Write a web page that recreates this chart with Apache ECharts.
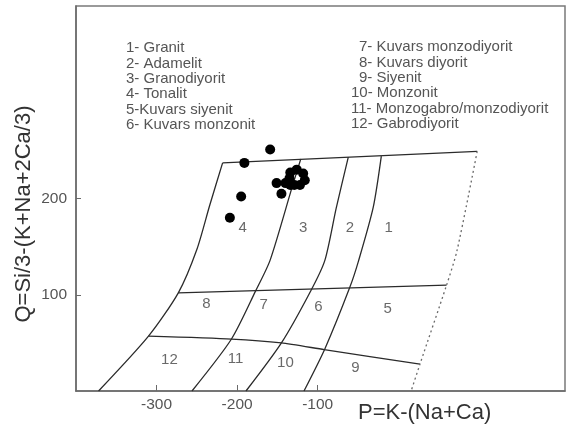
<!DOCTYPE html>
<html>
<head>
<meta charset="utf-8">
<script src="https://cdn.jsdelivr.net/npm/echarts@6/dist/echarts.min.js"></script>
<style>
  html, body { margin: 0; padding: 0; background: #fff; }
  #chart { width: 569px; height: 427px; }
</style>
</head>
<body>
<div id="chart"></div>
<script>
// Debon & Le Fort P-Q classification diagram

// Axis tick labels
const xTickValues = [-300, -200, -100];
const yTickValues = [100, 200];

// Rock names of the fields
const legendLeft = ['1- Granit', '2- Adamelit', '3- Granodiyorit', '4- Tonalit', '5-Kuvars siyenit', '6- Kuvars monzonit'];
const legendRight = ['7- Kuvars monzodiyorit', '8- Kuvars diyorit', '9- Siyenit', '10- Monzonit', '11- Monzogabro/monzodiyorit', '12- Gabrodiyorit'];

// Field numbers and their P, Q locations
const fieldNumbers = ['1', '2', '3', '4', '5', '6', '7', '8', '9', '10', '11', '12'];
const fieldP = [-12, -60, -118, -193, -13, -99, -167, -238, -53, -140, -202, -284];
const fieldQ = [169, 169, 169, 169, 85, 87, 89, 91, 24, 29, 33, 32];

// Field boundaries as [P, Q] vertices
const topEdge = [[-218, 237], [98, 249]];
const leftEdge = [[-218, 237], [-234, 193], [-250, 147], [-273, 102], [-310, 57], [-372, 0]];
const boundary4to3 = [[-121, 241], [-132, 211], [-159, 136], [-177, 104], [-207, 54], [-256, 0]];
const boundary3to2 = [[-62, 243], [-77, 190], [-91, 136], [-108, 105], [-145, 50], [-189, 0]];
const boundary2to1 = [[-21, 244], [-31, 191], [-49, 136], [-60, 108], [-91, 44], [-117, 0]];
const middleLine = [[-273, 102], [60, 110]];
const lowerLine = [[-310, 57], [-207, 54], [-145, 50], [-92, 43], [27, 28]];
const dashedEdge = [[98, 249], [73, 146], [60, 110], [27, 28], [16, 0]];

// Samples
const sampleP = [-159, -191, -195, -209, -145, -151, -140, -134, -126, -118, -116, -122, -129, -134, -135];
const sampleQ = [251, 237, 202, 180, 205, 216, 216, 214, 230, 226, 219, 214, 214, 227, 221];

const chart = echarts.init(document.getElementById('chart'), null, { renderer: 'canvas' });

const lineColor = '#2b2b2b';
function boundary(data, extra) {
  return Object.assign({
    type: 'line',
    data: data,
    smooth: 0.25,
    symbol: 'none',
    silent: true,
    lineStyle: { color: lineColor, width: 1.3 },
    z: 2
  }, extra || {});
}

const textFont = '"Liberation Sans", Arial, sans-serif';
const graphics = [];
legendLeft.forEach((t, i) => {
  graphics.push({
    type: 'text', x: 126, y: 48 + i * 15.4,
    style: { text: t, font: '15px ' + textFont, fill: '#555', textVerticalAlign: 'middle', verticalAlign: 'middle' }
  });
});
legendRight.forEach((t, i) => {
  const digits = t.indexOf('-');
  graphics.push({
    type: 'text', x: 359 - (digits - 1) * 8, y: 47 + i * 15.4,
    style: { text: t, font: '15px ' + textFont, fill: '#555', textVerticalAlign: 'middle', verticalAlign: 'middle' }
  });
});
graphics.push({
  type: 'text', x: 358, y: 413,
  style: { text: 'P=K-(Na+Ca)', font: '22px ' + textFont, fill: '#333', textVerticalAlign: 'middle', verticalAlign: 'middle' }
});
graphics.push({
  type: 'text', x: 24, y: 214, rotation: Math.PI / 2,
  style: { text: 'Q=Si/3-(K+Na+2Ca/3)', font: '22px ' + textFont, fill: '#333',
           textAlign: 'center', align: 'center', textVerticalAlign: 'middle', verticalAlign: 'middle' }
});

chart.setOption({
  animation: false,
  backgroundColor: '#fff',
  grid: {
    left: 76, right: 4, top: 6, bottom: 36,
    show: true, borderColor: '#7a7a7a', borderWidth: 1.5, backgroundColor: 'transparent'
  },
  xAxis: {
    type: 'value', min: -400, max: 207, interval: 100,
    splitLine: { show: false },
    axisLine: { show: true, onZero: false, lineStyle: { color: '#6a6a6a', width: 1.5 } },
    axisTick: { show: true, inside: true, length: 6, customValues: xTickValues, lineStyle: { color: '#6a6a6a' } },
    axisLabel: { show: true, customValues: xTickValues, color: '#555', fontSize: 15.5, fontFamily: 'Liberation Sans', margin: 6 }
  },
  yAxis: {
    type: 'value', min: 0, max: 400, interval: 100,
    splitLine: { show: false },
    axisLine: { show: true, onZero: false, lineStyle: { color: '#6a6a6a', width: 1.5 } },
    axisTick: { show: true, inside: true, length: 5, customValues: yTickValues, lineStyle: { color: '#6a6a6a' } },
    axisLabel: { show: true, customValues: yTickValues, color: '#555', fontSize: 15.5, fontFamily: 'Liberation Sans', margin: 9 }
  },
  graphic: graphics,
  series: [
    boundary(topEdge, { smooth: false }),
    boundary(leftEdge),
    boundary(boundary4to3),
    boundary(boundary3to2),
    boundary(boundary2to1),
    boundary(middleLine, { smooth: false }),
    boundary(lowerLine, { smooth: 0.2 }),
    boundary(dashedEdge, { lineStyle: { color: '#6a6a6a', width: 1.3, type: [2, 3] } }),
    {
      type: 'scatter',
      data: fieldNumbers.map((n, i) => [fieldP[i], fieldQ[i], n]),
      symbolSize: 0,
      silent: true,
      label: {
        show: true, position: 'inside', formatter: p => p.value[2],
        color: '#444', fontSize: 15, fontFamily: 'Liberation Sans'
      },
      z: 3
    },
    {
      type: 'scatter',
      data: sampleP.map((p, i) => [p, sampleQ[i]]),
      symbol: 'circle',
      symbolSize: 10,
      itemStyle: { color: '#000', opacity: 1 },
      z: 4
    }
  ]
});
</script>
</body>
</html>
